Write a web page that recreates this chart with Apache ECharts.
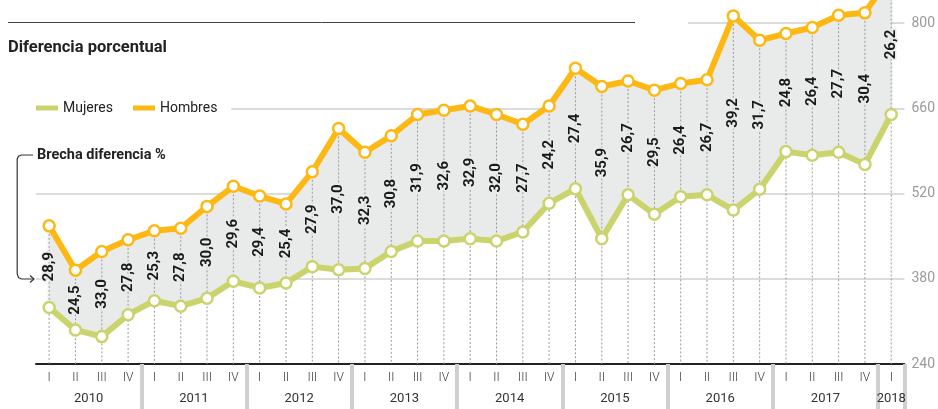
<!DOCTYPE html>
<html>
<head>
<meta charset="utf-8">
<title>Diferencia porcentual</title>
<script src="https://cdn.jsdelivr.net/npm/echarts@6/dist/echarts.min.js"></script>
<style>
    html, body { margin: 0; padding: 0; background: #fff; overflow: hidden; width: 938px; height: 409px; position: relative; }
    /* el gráfico sobresale por arriba, como en el original */
    #chartsmain { position: absolute; left: 0; top: -62px; width: 938px; height: 471px; }
</style>
</head>
<body>
<div id="chartsmain"></div>
<script>
    // etiquetas del eje
    var years = ['2010', '2011', '2012', '2013', '2014', '2015', '2016', '2017', '2018'];
    var quarters = ['I', 'II', 'III', 'IV'];
    var yTicks = [240, 380, 520, 660, 800];

    // valores por trimestre
    var hombres = [467, 394, 425, 444, 459, 463, 499, 532, 516, 503, 556, 627, 588, 615, 650, 657,
                   664, 650, 634, 664, 726, 696, 705, 690, 701, 707, 812, 772, 783, 793, 813, 817, 880];
    var mujeres = [333, 296, 285, 321, 344, 335, 348, 376, 365, 373, 400, 395, 397, 425, 442, 442,
                   446, 442, 457, 504, 528, 446, 518, 486, 515, 518, 493, 527, 589, 583, 588, 568, 650];
    var brecha = ['28,9', '24,5', '33,0', '27,8', '25,3', '27,8', '30,0', '29,6', '29,4', '25,4', '27,9', '37,0',
                  '32,3', '30,8', '31,9', '32,6', '32,9', '32,0', '27,7', '24,2', '27,4', '35,9', '26,7', '29,5',
                  '26,4', '26,7', '39,2', '31,7', '24,8', '26,4', '27,7', '30,4', '26,2'];

    var periods = [];
    years.forEach(function (y) {
        quarters.forEach(function (q) {
            if (periods.length < hombres.length) periods.push(y + ' ' + q);
        });
    });

    var FONT = 'Roboto, "Open Sans", sans-serif';
    var OFF = 62; // desplazamiento del contenedor
    var step = yTicks[1] - yTicks[0];
    var cMuj = '#cbd36c', cHom = '#fdb813';

    var chart = echarts.init(document.getElementById('chartsmain'));

    var option = {
        animation: false,
        textStyle: { fontFamily: FONT },
        grid: { left: 36, right: 33, top: 0, bottom: 45 },
        legend: {
            left: 36,
            top: 97 + OFF,
            icon: 'rect',
            itemWidth: 22,
            itemHeight: 5,
            itemGap: 20,
            padding: [4, 14, 4, 0],
            backgroundColor: '#fff',
            textStyle: { fontSize: 14, color: '#222', fontFamily: FONT },
            data: [
                { name: 'Mujeres', itemStyle: { color: cMuj, borderWidth: 0 } },
                { name: 'Hombres', itemStyle: { color: cHom, borderWidth: 0 } }
            ]
        },
        xAxis: {
            type: 'category',
            data: periods,
            boundaryGap: true,
            axisLine: { lineStyle: { color: '#222', width: 2 } },
            axisTick: {
                show: true,
                length: 45,
                interval: function (index) { return index > 0 && index % 4 === 0; },
                lineStyle: { color: '#cfcfcf', width: 4 }
            },
            axisLabel: {
                interval: 0,
                margin: 8,
                fontSize: 12,
                fontWeight: 300,
                color: '#333',
                formatter: function (v) { return v.split(' ')[1]; }
            },
            splitLine: { show: false }
        },
        yAxis: {
            type: 'value',
            position: 'right',
            min: yTicks[0],
            max: yTicks[yTicks.length - 1] + step,
            interval: step,
            axisLine: { show: false },
            axisTick: { show: false },
            axisLabel: {
                margin: 7,
                fontSize: 14,
                color: '#9a9a9a',
                formatter: function (v) { return yTicks.indexOf(v) >= 0 ? v : ''; }
            },
            splitLine: { lineStyle: { color: '#dcdcdc', width: 2 } }
        },
        graphic: [
            // tapa las líneas de la rejilla bajo el título
            { type: 'rect', z: 1, shape: { x: 0, y: 0, width: 688, height: 62 + OFF }, style: { fill: '#fff' } },
            { type: 'line', z: 10, shape: { x1: 8, y1: 22.5 + OFF, x2: 635, y2: 22.5 + OFF }, style: { stroke: '#444', lineWidth: 1 } },
            { type: 'text', z: 10, x: 8, y: 48 + OFF, style: { text: 'Diferencia porcentual', font: 'bold 16.5px ' + FONT, fill: '#222', verticalAlign: 'middle' } },
            { type: 'rect', z: 1, shape: { x: 0, y: 140 + OFF, width: 180, height: 30 }, style: { fill: '#fff' } },
            { type: 'text', z: 10, x: 37, y: 155 + OFF, style: { text: 'Brecha diferencia %', font: 'bold 14.5px ' + FONT, fill: '#222', verticalAlign: 'middle' } },
            {
                type: 'polyline', z: 10,
                shape: { points: [[33, 155], [21.5, 155], [18.5, 156.3], [17.2, 159], [17.2, 274], [18.5, 277.5], [21.5, 279], [34, 279]]
                    .map(function (p) { return [p[0], p[1] + OFF]; }) },
                style: { stroke: '#333', lineWidth: 1.2, fill: null }
            },
            {
                type: 'polyline', z: 10,
                shape: { points: [[30, 275.5 + OFF], [34, 279 + OFF], [30, 282.5 + OFF]] },
                style: { stroke: '#333', lineWidth: 1.2, fill: null }
            }
        ],
        series: [
            {
                name: 'base', type: 'line', stack: 'gap', data: mujeres, z: 1,
                symbol: 'none', silent: true, lineStyle: { opacity: 0 }
            },
            {
                name: 'gap', type: 'line', stack: 'gap', z: 1,
                data: hombres.map(function (h, i) { return h - mujeres[i]; }),
                symbol: 'none', silent: true, lineStyle: { opacity: 0 },
                areaStyle: { color: '#e9eaea', opacity: 1, shadowBlur: 4, shadowColor: 'rgba(0,0,0,0.12)' }
            },
            {
                // líneas punteadas desde hombres hasta el eje
                name: 'guias', type: 'custom', z: 2, silent: true,
                data: hombres.map(function (h, i) { return [i, h]; }),
                encode: { x: 0, y: 1 },
                renderItem: function (params, api) {
                    var top = api.coord([api.value(0), api.value(1)]);
                    var bot = api.coord([api.value(0), yTicks[0]]);
                    return {
                        type: 'line',
                        shape: { x1: top[0], y1: top[1], x2: bot[0], y2: bot[1] },
                        style: { stroke: '#999', lineWidth: 1, lineDash: [2, 2] }
                    };
                }
            },
            {
                name: 'Mujeres', type: 'line', data: mujeres, z: 3,
                color: cMuj,
                lineStyle: { width: 6, color: cMuj },
                symbol: 'circle', symbolSize: 11, showAllSymbol: true,
                itemStyle: { color: '#fff', borderColor: cMuj, borderWidth: 2.5 }
            },
            {
                name: 'Hombres', type: 'line', data: hombres, z: 3,
                color: cHom,
                lineStyle: { width: 6, color: cHom },
                symbol: 'circle', symbolSize: 11, showAllSymbol: true,
                itemStyle: { color: '#fff', borderColor: cHom, borderWidth: 2.5 }
            },
            {
                // etiquetas de la brecha
                name: 'brecha', type: 'custom', z: 4, silent: true,
                data: hombres.map(function (h, i) { return [i, h, mujeres[i]]; }),
                encode: { x: 0, y: [1, 2] },
                renderItem: function (params, api) {
                    var top = api.coord([api.value(0), api.value(1)]);
                    var bot = api.coord([api.value(0), api.value(2)]);
                    return {
                        type: 'text',
                        x: top[0],
                        y: (top[1] + bot[1]) / 2,
                        rotation: Math.PI / 2,
                        style: {
                            x: 0, y: 0,
                            text: brecha[params.dataIndex],
                            font: 'bold 15px ' + FONT,
                            fill: '#1a1a1a',
                            align: 'center',
                            verticalAlign: 'middle',
                            stroke: '#eaebeb',
                            lineWidth: 3
                        }
                    };
                }
            },
            {
                // años bajo el eje
                name: 'anios', type: 'custom', z: 4, silent: true,
                data: years.map(function (y, k) { return [k * 4, Math.min(k * 4 + 3, periods.length - 1)]; }),
                encode: { x: [0, 1] },
                renderItem: function (params, api) {
                    var a = api.coord([api.value(0), yTicks[0]]);
                    var b = api.coord([api.value(1), yTicks[0]]);
                    return {
                        type: 'text',
                        x: (a[0] + b[0]) / 2,
                        y: a[1] + 35,
                        style: {
                            text: years[params.dataIndex],
                            font: '13px ' + FONT,
                            fill: '#333',
                            align: 'center',
                            verticalAlign: 'middle'
                        }
                    };
                }
            }
        ]
    };
    chart.setOption(option);
</script>
</body>
</html>
